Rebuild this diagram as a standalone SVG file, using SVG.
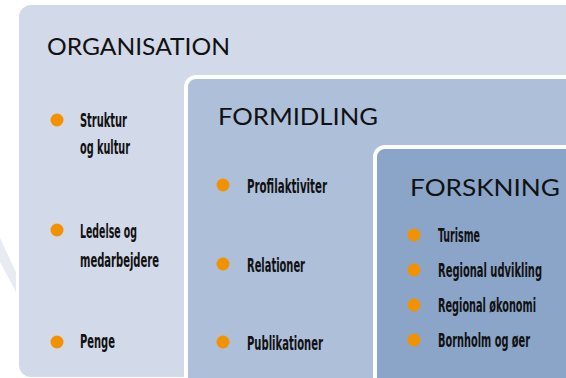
<svg xmlns="http://www.w3.org/2000/svg" width="566" height="378" viewBox="0 0 566 378">
  <style>
    .title { font-family: Lato, "Open Sans", "DejaVu Sans", sans-serif; font-size: 24px; fill: #111; }
    .item { font-family: "DejaVu Sans", "Liberation Sans", sans-serif; font-weight: bold; font-stretch: condensed; font-size: 20px; fill: #111; }
    .dot { fill: #F39200; }
  </style>
  <rect x="0" y="0" width="566" height="378" fill="#FFFFFF"/>
  <polygon points="0,238 16,272 16,292 0,262" fill="#E8ECF2"/>

  <g id="organisation">
    <rect x="19" y="5" width="580" height="372" rx="12" fill="#D2D9E8"/>
    <text class="title" x="47" y="55" textLength="183" lengthAdjust="spacingAndGlyphs">ORGANISATION</text>
    <circle class="dot" cx="57" cy="120" r="6.5"/>
    <text class="item" x="80" y="127" textLength="47" lengthAdjust="spacingAndGlyphs">Struktur</text>
    <text class="item" x="80" y="154" textLength="50" lengthAdjust="spacingAndGlyphs">og kultur</text>
    <circle class="dot" cx="57" cy="230" r="6.5"/>
    <text class="item" x="80" y="238" textLength="57" lengthAdjust="spacingAndGlyphs">Ledelse og</text>
    <text class="item" x="80" y="267" textLength="79" lengthAdjust="spacingAndGlyphs">medarbejdere</text>
    <circle class="dot" cx="57" cy="342" r="6.5"/>
    <text class="item" x="80" y="348" textLength="35" lengthAdjust="spacingAndGlyphs">Penge</text>
  </g>

  <g id="formidling">
    <rect x="186" y="77" width="420" height="340" rx="10" fill="#AEBFD9" stroke="#FFFFFF" stroke-width="4"/>
    <text class="title" x="218" y="125" textLength="160" lengthAdjust="spacingAndGlyphs">FORMIDLING</text>
    <circle class="dot" cx="223" cy="185" r="6.5"/>
    <text class="item" x="247" y="193" textLength="80" lengthAdjust="spacingAndGlyphs">Profilaktiviter</text>
    <circle class="dot" cx="223" cy="264" r="6.5"/>
    <text class="item" x="247" y="272" textLength="58" lengthAdjust="spacingAndGlyphs">Relationer</text>
    <circle class="dot" cx="223" cy="342" r="6.5"/>
    <text class="item" x="247" y="350" textLength="76" lengthAdjust="spacingAndGlyphs">Publikationer</text>
  </g>

  <g id="forskning">
    <rect x="375" y="147" width="240" height="280" rx="10" fill="#8AA5C8" stroke="#FFFFFF" stroke-width="4"/>
    <text class="title" x="410" y="196" font-size="22" textLength="150" lengthAdjust="spacingAndGlyphs">FORSKNING</text>
    <circle class="dot" cx="414" cy="235" r="6.5"/>
    <text class="item" x="438" y="242" textLength="42" lengthAdjust="spacingAndGlyphs">Turisme</text>
    <circle class="dot" cx="414" cy="270" r="6.5"/>
    <text class="item" x="438" y="277" textLength="104" lengthAdjust="spacingAndGlyphs">Regional udvikling</text>
    <circle class="dot" cx="414" cy="305" r="6.5"/>
    <text class="item" x="438" y="312" textLength="98" lengthAdjust="spacingAndGlyphs">Regional økonomi</text>
    <circle class="dot" cx="414" cy="340" r="6.5"/>
    <text class="item" x="438" y="347" textLength="92" lengthAdjust="spacingAndGlyphs">Bornholm og øer</text>
  </g>

  <g id="connectors"></g>
</svg>
